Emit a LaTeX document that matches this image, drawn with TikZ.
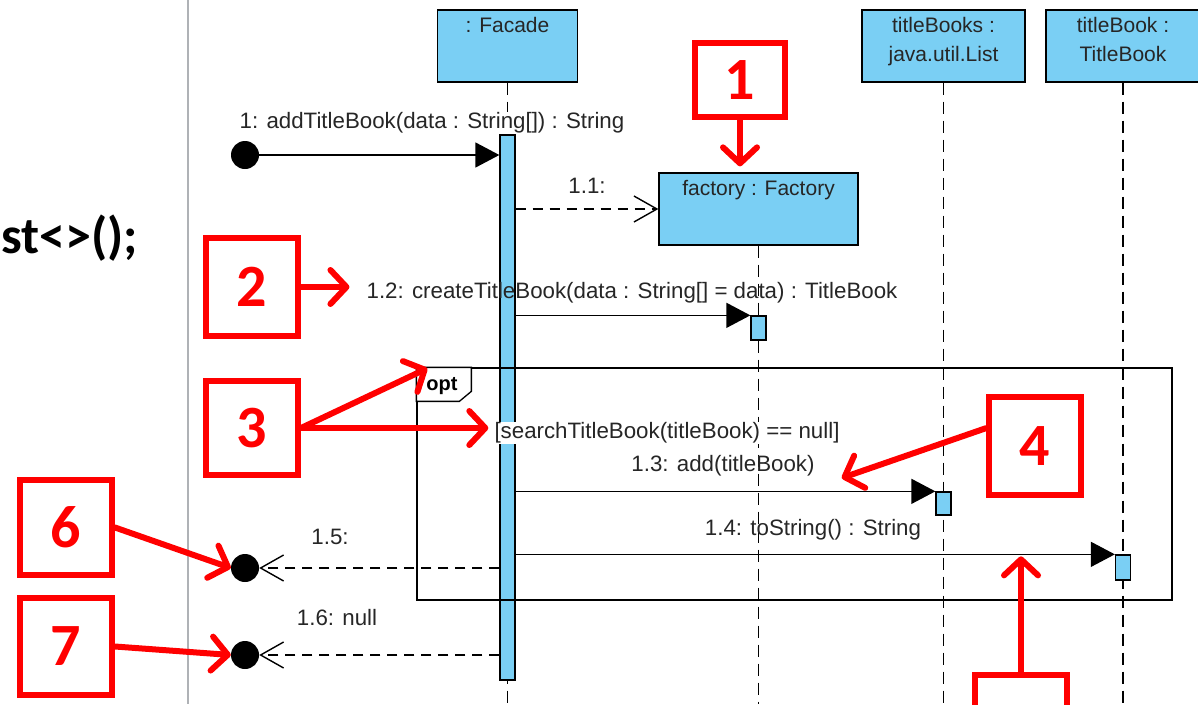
\documentclass[tikz,border=0pt]{standalone}
\usepackage{fontspec}
\setmainfont{Liberation Sans}
\newfontfamily\notefont{Carlito}
\usetikzlibrary{arrows.meta}

\definecolor{lifeblue}{RGB}{122,207,244}
\definecolor{sepgray}{RGB}{175,178,182}

\tikzset{
  objbox/.style={draw=black, fill=lifeblue, line width=1.3pt, minimum height=72pt, inner sep=0pt},
  boxtext/.style={anchor=north, yshift=-4pt, align=center, text=black!85, font=\fontsize{21}{29}\selectfont},
  lifeline/.style={line width=1.5pt, dash pattern=on 12pt off 7pt},
  actbar/.style={draw=black, fill=lifeblue, line width=1.3pt, minimum width=15pt, inner sep=0pt},
  msgtext/.style={text=black!85, inner sep=1pt, font=\fontsize{22.3}{26}\selectfont},
  call/.style={line width=1.4pt, -{Triangle[length=24pt,width=25pt]}},
  reply/.style={line width=1.4pt, dash pattern=on 10pt off 7pt, -{Straight Barb[length=23pt,width=26pt]}},
  enddot/.style={circle, fill=black, minimum size=28pt, inner sep=0pt},
  numbox/.style={draw=red, line width=6pt, minimum width=92pt, minimum height=98pt, inner sep=0pt, text=red, font=\notefont\bfseries\fontsize{60}{60}\selectfont},
  pointer/.style={draw=red, line width=6pt, line cap=round, -{Straight Barb[length=16pt,width=34pt,round]}},
}

\begin{document}
\begin{tikzpicture}[x=1pt,y=-1pt]
	\clip (0,0) rectangle (1198,704);
	\coordinate (bottom) at (0,704);

	% code on the left page
	\node[anchor=base west, font=\notefont\bfseries\fontsize{52}{60}\selectfont] (code) at (-2,253) {st<>();};
	\coordinate (septop) at (188,0);
	\draw[sepgray, line width=2pt] (septop) -- (septop |- bottom);

	% objects
	\node[objbox, minimum width=140pt, label={[boxtext]north:{: Facade}}] (facade) at (507.5,46) {};
	\node[objbox, minimum width=163pt, label={[boxtext]north:{titleBooks :\\java.util.List}}] (books) at (943.5,46) {};
	\node[objbox, minimum width=154pt, label={[boxtext]north:{titleBook :\\TitleBook}}] (book) at (1123,46) {};
	\node[objbox, minimum width=199pt, label={[boxtext]north:{factory : Factory}}] (factory) at (758.5,209) {};

	\draw[lifeline] (facade.south) -- (facade.south |- bottom);
	\draw[lifeline] (factory.south) -- (factory.south |- bottom);
	\draw[lifeline] (books.south) -- (books.south |- bottom);
	\draw[lifeline] (book.south) -- (book.south |- bottom);

	\node[actbar, minimum height=545pt] (facadeAct) at (507.5,407.5) {};
	\node[actbar, minimum height=24pt] (factoryAct) at (758.5,328) {};
	\node[actbar, minimum height=23pt] (booksAct) at (943.5,503.5) {};
	\node[actbar, minimum height=25pt] (bookAct) at (1123,567.5) {};

	% messages
	\node[enddot] (start) at (245,155) {};
	\draw[call] (start) -- (start -| facadeAct.west);
	\node[msgtext, fill=white] (m1) at (432,123) {1: addTitleBook(data : String[]) : String};

	\draw[reply] (factory.west -| facadeAct.east) -- (factory.west);
	\node[msgtext] (m11) at (587,186) {1.1:};

	\draw[call] (factoryAct.north west -| facadeAct.east) -- (factoryAct.north west);
	\node[msgtext] (m12) at (632,293) {1.2: createTitleBook(data : String[] = data) : TitleBook};

	% opt fragment
	\node[draw, line width=1.3pt, minimum width=755pt, minimum height=232pt, inner sep=0pt] (opt) at (794.5,484) {};
	\draw[line width=1.3pt, fill=white] (opt.north west) -- ++(55,0) -- ++(0,24) -- ++(-12,10) -- ++(-43,0) -- cycle;
	\node[font=\bfseries\fontsize{20}{24}\selectfont] (optname) at (442,386) {opt};
	\node[msgtext, fill=white] (guard) at (667,433) {[searchTitleBook(titleBook) == null]};

	\draw[call] (booksAct.north west -| facadeAct.east) -- (booksAct.north west);
	\node[msgtext] (m13) at (723,466) {1.3: add(titleBook)};
	\draw[call] (bookAct.north west -| facadeAct.east) -- (bookAct.north west);
	\node[msgtext] (m14) at (813,530) {1.4: toString() : String};

	\node[enddot] (ret1) at (245,568) {};
	\draw[reply] (ret1 -| facadeAct.west) -- (ret1);
	\node[msgtext] (m15) at (330,537) {1.5:};
	\node[enddot] (ret2) at (245,655) {};
	\draw[reply] (ret2 -| facadeAct.west) -- (ret2);
	\node[msgtext] (m16) at (337,618) {1.6: null};

	% numbered callouts
	\node[numbox, minimum width=90pt, minimum height=74pt] (n1) at (740,80) {1};
	\node[numbox] (n2) at (252,287) {2};
	\node[numbox, minimum height=94pt] (n3) at (252,428) {3};
	\node[numbox] (n4) at (1035,446) {4};
	\node[numbox] (n5) at (1021,724) {};
	\node[numbox, minimum height=95pt] (n6) at (66,527.5) {6};
	\node[numbox, minimum height=97pt] (n7) at (66,646.5) {7};

	\draw[pointer] (n1.south) -- ([yshift=6pt]n1.south |- factory.north);
	\draw[pointer] (n2.east) -- ([xshift=-16pt]n2.east -| m12.west);
	\draw[pointer] (n3.east) -- ([xshift=11pt,yshift=-1pt]opt.north west);
	\draw[pointer] (n3.east) -- ([xshift=-5pt]n3.east -| guard.west);
	\draw[pointer] (n4.160) -- ([shift={(26pt,-12pt)}]m13.east);
	\draw[pointer] (n5.north) -- ([yshift=-2pt]n5.north |- bookAct.north);
	\draw[pointer] (n6.east) -- (ret1.west);
	\draw[pointer] (n7.east) -- (ret2.west);
\end{tikzpicture}
\end{document}
